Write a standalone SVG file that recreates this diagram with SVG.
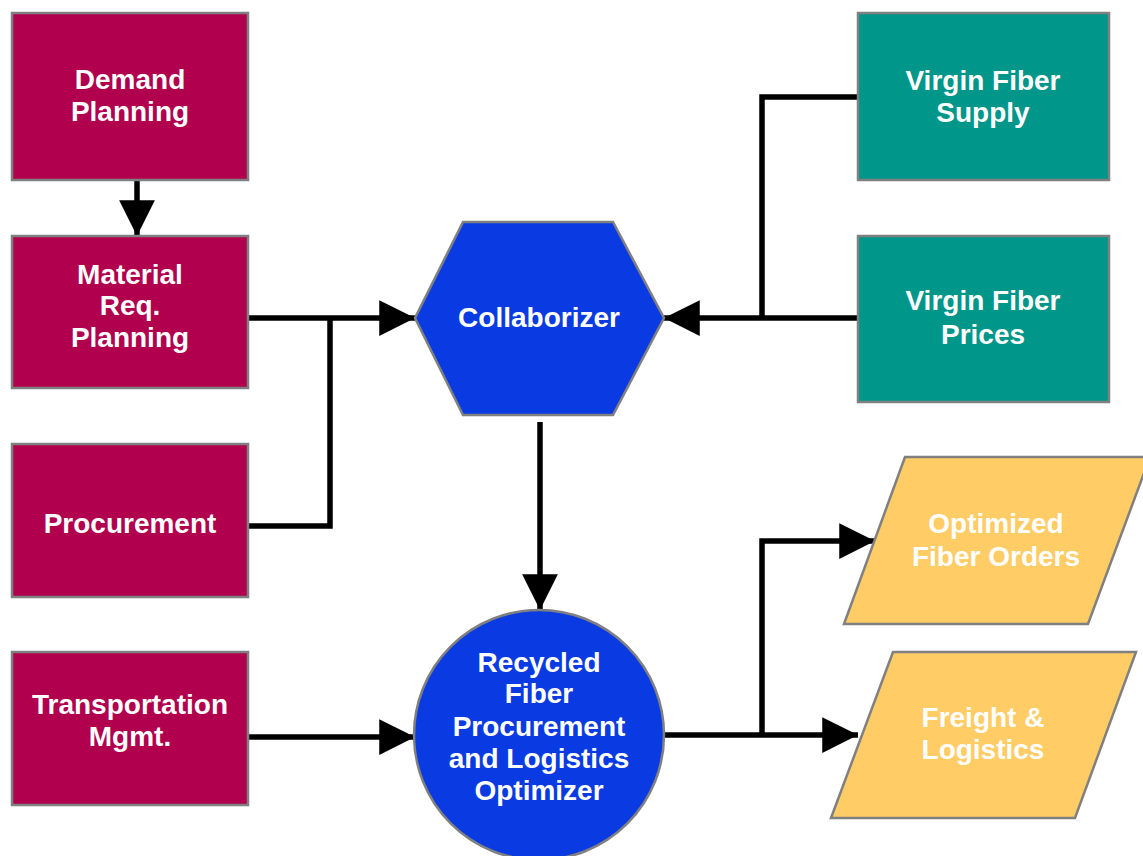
<svg xmlns="http://www.w3.org/2000/svg" width="1143" height="856" viewBox="0 0 1143 856">
<style>
.box{stroke:#808080;stroke-width:2.5}
.mag{fill:#B0004E}
.teal{fill:#00968A}
.blue{fill:#0A3BE2}
.yel{fill:#FFCC66}
text{font-family:"Liberation Sans",Arial,sans-serif;font-weight:bold;font-size:28px;fill:#fff;text-anchor:middle}
.ln{fill:none;stroke:#000;stroke-width:5.5;stroke-linejoin:miter;stroke-linecap:butt}
</style>
<defs>
<marker id="ah" viewBox="0 0 10 10" refX="10" refY="5" markerWidth="6.5" markerHeight="6.5" orient="auto" markerUnits="strokeWidth">
<path d="M0,0 L10,5 L0,10 Z" fill="#000"/>
</marker>
</defs>
<rect width="1143" height="856" fill="#fff"/>
<g id="connectors">
<path class="ln" d="M137,180 V236" marker-end="url(#ah)"/>
<path class="ln" d="M248,318 H415" marker-end="url(#ah)"/>
<path class="ln" d="M248,526 H330 V318"/>
<path class="ln" d="M540,422 V610" marker-end="url(#ah)"/>
<path class="ln" d="M248,737 H415" marker-end="url(#ah)"/>
<path class="ln" d="M663,735 H858" marker-end="url(#ah)"/>
<path class="ln" d="M762,735 V541 H875" marker-end="url(#ah)"/>
<path class="ln" d="M858,97 H762 V318"/>
<path class="ln" d="M858,318 H664" marker-end="url(#ah)"/>
</g>
<g id="demand"><rect class="box mag" x="12" y="13" width="236" height="167"/><text x="130" y="89">Demand</text><text x="130" y="121">Planning</text></g>
<g id="mrp"><rect class="box mag" x="12" y="236" width="236" height="152"/><text x="130" y="284">Material</text><text x="130" y="315">Req.</text><text x="130" y="347">Planning</text></g>
<g id="procurement"><rect class="box mag" x="12" y="444" width="236" height="153"/><text x="130" y="533">Procurement</text></g>
<g id="transport"><rect class="box mag" x="12" y="652" width="236" height="153"/><text x="130" y="714">Transportation</text><text x="130" y="746">Mgmt.</text></g>
<g id="vsupply"><rect class="box teal" x="858" y="13" width="251" height="167"/><text x="983" y="90">Virgin Fiber</text><text x="983" y="122">Supply</text></g>
<g id="vprices"><rect class="box teal" x="858" y="236" width="251" height="166"/><text x="983" y="310">Virgin Fiber</text><text x="983" y="344">Prices</text></g>
<g id="collaborizer"><polygon class="box blue" points="463,222 613,222 664,318 613,415 463,415 415,318"/><text x="539" y="327">Collaborizer</text></g>
<g id="optimizer"><circle class="box blue" cx="539" cy="735" r="125"/><text x="539" y="672">Recycled</text><text x="539" y="703">Fiber</text><text x="539" y="736">Procurement</text><text x="539" y="768">and Logistics</text><text x="539" y="800">Optimizer</text></g>
<g id="orders"><polygon class="box yel" points="905,457 1150,457 1088,624 844,624"/><text x="996" y="533">Optimized</text><text x="996" y="566">Fiber Orders</text></g>
<g id="freight"><polygon class="box yel" points="893,652 1136,652 1075,818 831,818"/><text x="983" y="727">Freight &amp;</text><text x="983" y="759">Logistics</text></g>
</svg>
